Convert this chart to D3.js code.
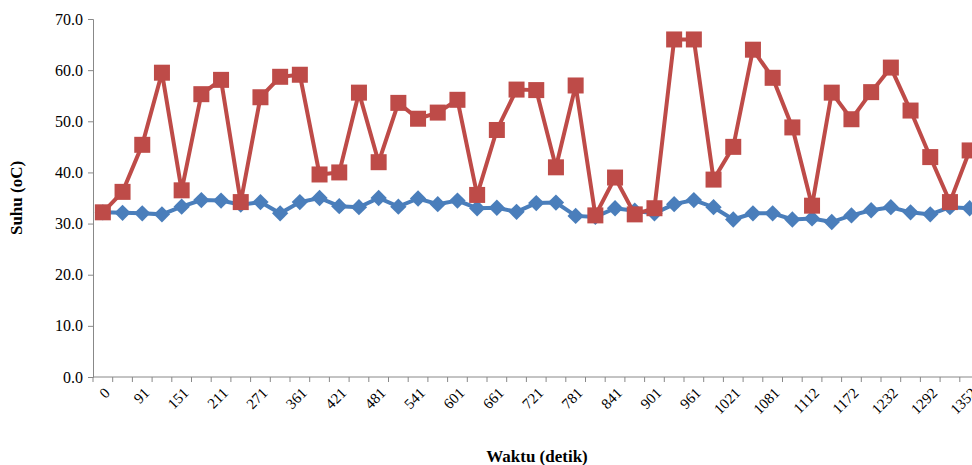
<!DOCTYPE html>
<html><head><meta charset="utf-8">
<script src="https://cdn.jsdelivr.net/npm/d3@7"></script>
<style>body{margin:0;background:#fff}text{font-family:"Liberation Serif","Times New Roman",serif}</style>
</head><body><svg id="c" width="972" height="465"></svg>
<script>
const categories=["0","61","91","121","151","181","211","241","271","316","361","391","421","451","481","511","541","571","601","631","661","691","721","751","781","811","841","871","901","931","961","991","1021","1051","1081","1097","1112","1142","1172","1202","1232","1262","1292","1322","1352"];
const seriesRed=[32.2,36.2,45.4,59.5,36.5,55.3,58.1,34.2,54.7,58.7,59.1,39.6,40.0,55.6,42.0,53.6,50.5,51.7,54.2,35.6,48.3,56.2,56.1,41.0,57.0,31.6,39.0,31.8,33.0,66.0,66.0,38.6,45.0,64.0,58.5,48.8,33.5,55.6,50.4,55.7,60.5,52.1,43.0,34.2,44.3];
const seriesBlue=[32.2,32.1,32.0,31.8,33.3,34.6,34.5,33.7,34.2,32.0,34.2,35.0,33.4,33.2,35.0,33.3,34.9,33.8,34.5,33.0,33.1,32.3,34.0,34.1,31.5,31.3,33.0,32.5,32.0,33.8,34.6,33.2,30.8,32.0,32.0,30.8,31.0,30.3,31.6,32.6,33.2,32.2,31.8,33.2,33.0];
const yTicks=[0,10,20,30,40,50,60,70];
const svg=d3.select("#c");
const x0=93,y0=377,y1=19,step=19.7;
const x=d3.scalePoint().domain(categories).range([x0,x0+step*categories.length]).padding(0.5);
const y=d3.scaleLinear().domain([0,70]).range([y0,y1]);
svg.append("defs").append("clipPath").attr("id","cp").append("rect").attr("x",0).attr("y",0).attr("width",972).attr("height",465);
const ya=svg.append("g").attr("transform",`translate(${x0},0)`).call(d3.axisLeft(y).tickValues(yTicks).tickFormat(d3.format(".1f")).tickSize(5));
ya.selectAll("text").attr("font-size",16).attr("fill","#000").attr("dx",-2);
ya.selectAll("line,path").attr("stroke","#888");
const xa=svg.append("g").attr("transform",`translate(0,${y0})`);
xa.append("line").attr("x1",x0).attr("x2",972).attr("stroke","#888");
categories.forEach((c,i)=>{
  const bx=x0+step*i;
  xa.append("line").attr("x1",bx).attr("x2",bx).attr("y1",0).attr("y2",5).attr("stroke","#888");
  if(i%2===0) xa.append("text").attr("transform",`translate(${x(c)+8},17) rotate(-45)`).attr("text-anchor","end").attr("font-size",15).text(c);
});
const line=d3.line().x((d,i)=>x(categories[i])).y(d=>y(d));
const g=svg.append("g").attr("clip-path","url(#cp)");
g.append("path").datum(seriesBlue).attr("d",line).attr("fill","none").attr("stroke","#4a7ebb").attr("stroke-width",4);
g.selectAll(".b").data(seriesBlue).enter().append("path").attr("d",d3.symbol(d3.symbolDiamond2,170)).attr("transform",(d,i)=>`translate(${x(categories[i])},${y(d)})`).attr("fill","#4a7ebb");
g.append("path").datum(seriesRed).attr("d",line).attr("fill","none").attr("stroke","#be4b48").attr("stroke-width",4);
g.selectAll(".r").data(seriesRed).enter().append("rect").attr("x",(d,i)=>x(categories[i])-8).attr("y",d=>y(d)-8).attr("width",16).attr("height",16).attr("fill","#be4b48");
svg.append("text").attr("x",537).attr("y",462).attr("text-anchor","middle").attr("font-weight","bold").attr("font-size",17).text("Waktu (detik)");
svg.append("text").attr("transform","translate(22,198) rotate(-90)").attr("text-anchor","middle").attr("font-weight","bold").attr("font-size",17).text("Suhu (oC)");
</script></body></html>
